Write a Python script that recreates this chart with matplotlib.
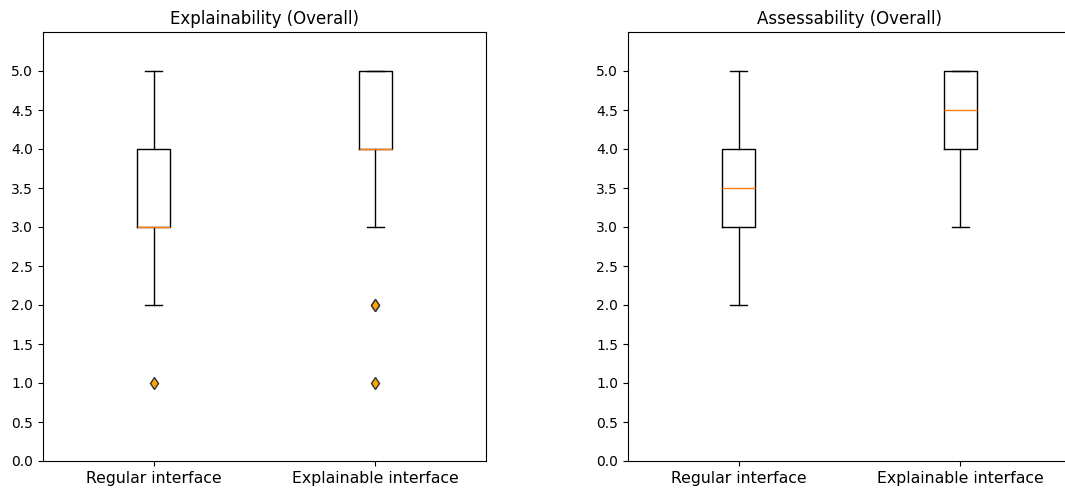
import matplotlib
matplotlib.use("Agg")
import matplotlib.pyplot as plt

categories = ["Regular interface", "Explainable interface"]
titles = ["Explainability (Overall)", "Assessability (Overall)"]

# per panel: [regular, explainable]
q1 = [[3.0, 4.0], [3.0, 4.0]]
med = [[3.0, 4.0], [3.5, 4.5]]
q3 = [[4.0, 5.0], [4.0, 5.0]]
whislo = [[2.0, 3.0], [2.0, 3.0]]
whishi = [[5.0, 5.0], [5.0, 5.0]]
fliers = [[[1.0], [2.0, 2.0, 1.0]], [[], []]]

yticks = [0.0, 0.5, 1.0, 1.5, 2.0, 2.5, 3.0, 3.5, 4.0, 4.5, 5.0]

fig = plt.figure(figsize=(10.65, 4.91), dpi=100)
W, H = 1065, 491
ax_w = 443 / W
ax_b = (491 - 461) / H
ax_h = (461 - 32) / H
lefts = [43 / W, 628 / W]

flierprops = dict(marker="d", markerfacecolor="orange", markeredgecolor="#333333",
                  markersize=6, markeredgewidth=1.0)

for p in range(2):
    ax = fig.add_axes([lefts[p], ax_b, ax_w, ax_h])
    stats = []
    for i, c in enumerate(categories):
        stats.append(dict(label=c, q1=q1[p][i], med=med[p][i], q3=q3[p][i],
                          whislo=whislo[p][i], whishi=whishi[p][i],
                          fliers=fliers[p][i]))
    ax.bxp(stats, positions=[1, 2], widths=0.15, flierprops=flierprops)
    ax.set_xlim(0.5, 2.5)
    ax.set_ylim(0, 5.5)
    ax.set_yticks(yticks)
    ax.set_yticklabels([f"{v:.1f}" for v in yticks])
    ax.set_title(titles[p], fontsize=12)
    ax.tick_params(axis="y", labelsize=10)
    ax.tick_params(axis="x", labelsize=11.3)

fig.savefig("out.png", dpi=100)
